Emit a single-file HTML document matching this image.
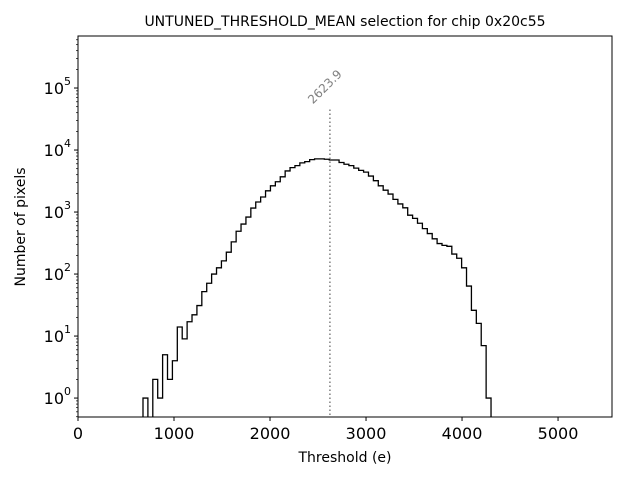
<!DOCTYPE html>
<html><head><meta charset="utf-8"><style>
body{margin:0;background:#fff;}
svg text{font-family:"DejaVu Sans","Liberation Sans",sans-serif;}
</style></head><body>
<svg id="chart" width="640" height="480" xmlns="http://www.w3.org/2000/svg">
<defs><clipPath id="clip"><rect x="78" y="36" width="534" height="381"/></clipPath></defs>
<rect width="640" height="480" fill="#fff"/>
<text x="345" y="26" text-anchor="middle" font-size="14">UNTUNED_THRESHOLD_MEAN selection for chip 0x20c55</text>
<g id="plot"></g>
<rect x="78" y="36" width="534" height="381" fill="none" stroke="#000" stroke-width="1"/>
<text x="345" y="462" text-anchor="middle" font-size="14">Threshold (e)</text>
<text transform="translate(25,227) rotate(-90)" text-anchor="middle" font-size="14">Number of pixels</text>
</svg>
<script>
const counts=[1,0,2,1,5,2,4,14,9,17,22,31,52,71,100,126,163,225,330,490,640,830,1160,1450,1750,2200,2650,3080,3700,4600,5200,5600,6200,6500,7000,7200,7200,
7100,6900,6900,6300,5900,5600,5100,4700,4400,3800,3200,2650,2250,1950,1600,1350,1170,890,790,660,540,450,370,310,290,280,210,180,126,64,26,16,7,1];
const binStart=677, binEnd=4302;
const meanValue=2623.9;
const xTicks=[0,1000,2000,3000,4000,5000];
const yTickExps=[0,1,2,3,4,5];
const NS="http://www.w3.org/2000/svg";
const X0=78,X1=612,Y0=417,Y1=36,xMax=5562,logMin=Math.log10(0.495),logMax=Math.log10(6.9e5);
const xs=v=>X0+v/xMax*(X1-X0);
const ys=v=>{if(v<=0)return Y0+50;return Y0-(Math.log10(v)-logMin)/(logMax-logMin)*(Y0-Y1);};
const plot=document.getElementById('plot');
function mk(t,a){const e=document.createElementNS(NS,t);for(const k in a)e.setAttribute(k,a[k]);return e;}
const bw=(binEnd-binStart)/counts.length;
let d=`M${xs(binStart)},${Y0+50}`;
counts.forEach((c,i)=>{const y=ys(c);d+=` L${xs(binStart+i*bw)},${y} L${xs(binStart+(i+1)*bw)},${y}`;});
d+=` L${xs(binEnd)},${Y0+50}`;
const p=mk('path',{d:d,fill:'none',stroke:'#000','stroke-width':1.3,'clip-path':'url(#clip)'});


plot.appendChild(p);
const mx=xs(meanValue);
const ml=mk('line',{x1:mx,x2:mx,y1:ys(4.5e4),y2:Y0,stroke:'#808080','stroke-width':1.5,'stroke-dasharray':'1.5,2.5'});


plot.appendChild(ml);
const mt=mk('text',{transform:`translate(${mx-17},${ys(4.5e4)-5}) rotate(-45)`,'font-size':12,fill:'#808080'});
mt.textContent=meanValue.toFixed(1);


plot.appendChild(mt);
xTicks.forEach(v=>{const x=xs(v);
const t=mk('line',{x1:x,x2:x,y1:Y0,y2:Y0+4,stroke:'#000'});


plot.appendChild(t);
const l=mk('text',{x:x,y:Y0+22,'text-anchor':'middle','font-size':16});l.textContent=v;


plot.appendChild(l);});
for(let e=-1;e<=5;e++){for(let m=1;m<10;m++){const v=m*Math.pow(10,e);const y=ys(v);if(y>Y0||y<Y1)continue;
const major=m===1;
const t=mk('line',{x1:X0-(major?4:2),x2:X0,y1:y,y2:y,stroke:'#000','stroke-width':major?1:0.7});


plot.appendChild(t);}}
yTickExps.forEach(e=>{const y=ys(Math.pow(10,e));
const l=mk('text',{x:X0-14,y:y+6,'text-anchor':'end','font-size':16});l.textContent='10';


plot.appendChild(l);
const s=mk('text',{x:X0-14,y:y-3,'text-anchor':'start','font-size':11});s.textContent=e;


plot.appendChild(s);});
</script>
</body></html>
